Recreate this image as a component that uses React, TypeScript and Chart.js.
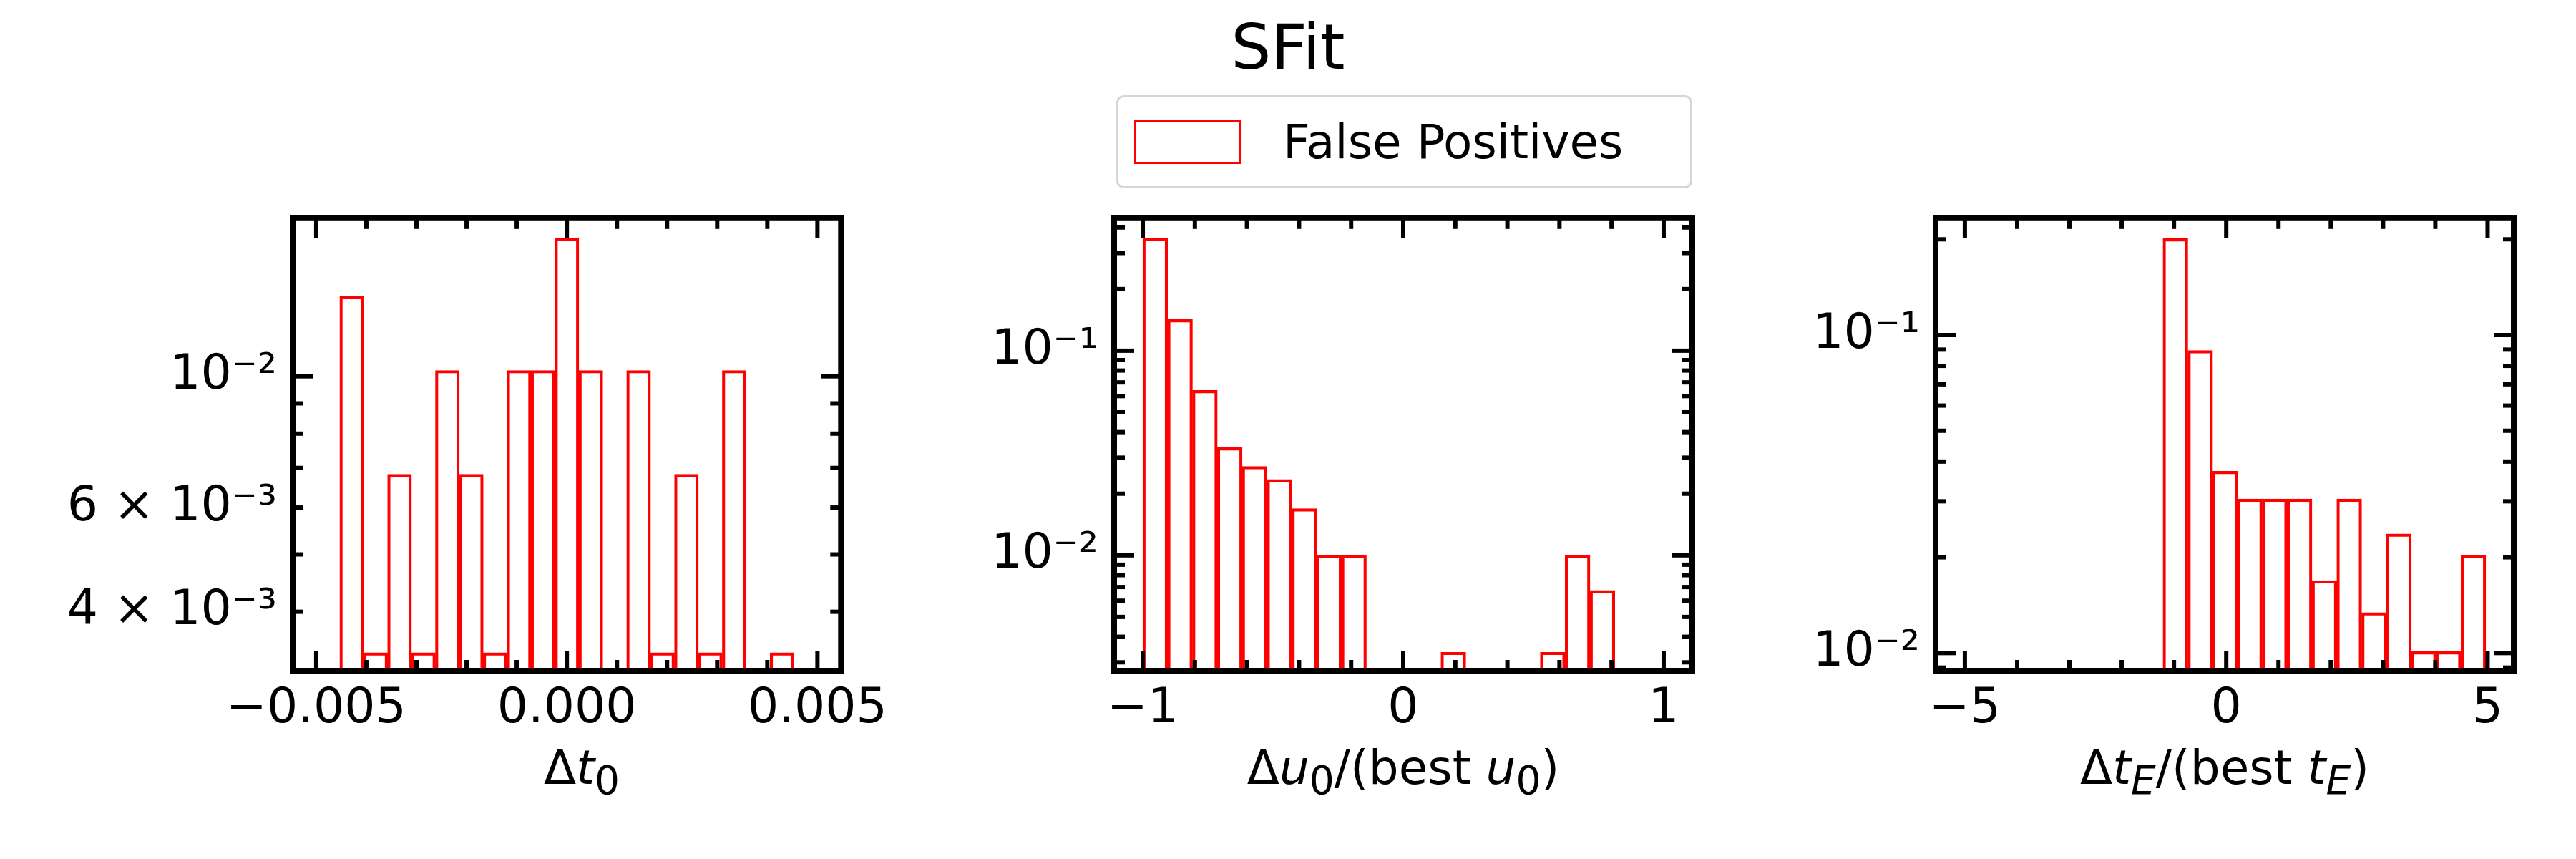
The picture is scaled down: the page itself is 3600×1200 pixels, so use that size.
import { useEffect, useRef } from 'react';
import { Chart, registerables } from 'chart.js';

Chart.register(...registerables);

// --- data (density histograms) ---
const t0BinStart = -0.00453;
const t0BinWidth = 0.000477;
const t0Density = [0.01366, 0.00341, 0.00683, 0.00341, 0.01023, 0.00683, 0.00341, 0.01023, 0.01023, 0.0171, 0.01023, null, 0.01023, 0.00341, 0.00683, 0.00341, 0.01023, null, 0.00341];
const t0Ticks = [0.004, 0.006, 0.01];
const t0TickLabels = ['4 × 10⁻³', '6 × 10⁻³', '10⁻²'];

const u0BinStart = -1.0;
const u0BinWidth = 0.0954;
const u0Density = [0.353, 0.142, 0.064, 0.0336, 0.0272, 0.0235, 0.0169, 0.01, 0.01, null, null, null, 0.00336, null, null, null, 0.00336, 0.01, 0.00674];
const u0Ticks = [0.01, 0.1];
const u0TickLabels = ['10⁻²', '10⁻¹'];

const tEBinStart = -1.21;
const tEBinWidth = 0.475;
const tEDensity = [0.201, 0.0894, 0.0373, 0.0305, 0.0305, 0.0305, 0.0169, 0.0305, 0.0134, 0.0237, 0.0101, 0.0101, 0.0203];
const tETicks = [0.01, 0.1];
const tETickLabels = ['10⁻²', '10⁻¹'];

const FONT = 'DejaVu Sans';

type Panel = {
  left: number;
  binStart: number;
  binWidth: number;
  density: (number | null)[];
  xMin: number; xMax: number;
  yMin: number; yMax: number;
  xMajor: number[]; xLabels: string[]; xMinorStep: number;
  yTicks: number[]; yLabels: string[];
};

const AX_TOP = 298;
const AX_BOTTOM = 937;
const AX_W = 808;
const CANVAS_TOP = 250;

function minorLog(min: number, max: number) {
  const out: number[] = [];
  for (let e = Math.floor(Math.log10(min)); e <= Math.ceil(Math.log10(max)); e++) {
    for (let m = 1; m < 10; m++) {
      const v = m * Math.pow(10, e);
      if (v >= min && v <= max) out.push(v);
    }
  }
  return out;
}

const frame = {
  id: 'frame',
  afterDraw(chart: any, _a: any, opts: any) {
    const { ctx, chartArea: a } = chart;
    const xs = chart.scales.x, ys = chart.scales.y;
    ctx.save();
    ctx.strokeStyle = '#000';
    ctx.lineCap = 'butt';
    const tick = (x1: number, y1: number, x2: number, y2: number, w: number) => {
      ctx.lineWidth = w; ctx.beginPath(); ctx.moveTo(x1, y1); ctx.lineTo(x2, y2); ctx.stroke();
    };
    for (let v = Math.ceil(opts.xMin / opts.xMinorStep - 1e-9) * opts.xMinorStep; v <= opts.xMax; v += opts.xMinorStep) {
      const px = xs.getPixelForValue(v);
      const major = opts.xMajor.some((m: number) => Math.abs(m - v) < opts.xMinorStep / 10);
      const L = major ? 28 : 15;
      tick(px, a.bottom, px, a.bottom - L, 6);
      tick(px, a.top, px, a.top + L, 6);
    }
    for (const v of minorLog(opts.yMin, opts.yMax)) {
      const py = ys.getPixelForValue(v);
      const major = Math.abs(Math.log10(v) - Math.round(Math.log10(v))) < 1e-6;
      const L = major ? 28 : 15;
      tick(a.left, py, a.left + L, py, 6);
      tick(a.right, py, a.right - L, py, 6);
    }
    ctx.lineWidth = 8;
    ctx.strokeRect(a.left, a.top, a.right - a.left, a.bottom - a.top);
    ctx.restore();
  },
};

function HistPanel({ p }: { p: Panel }) {
  const ref = useRef<HTMLCanvasElement>(null);
  useEffect(() => {
    if (!ref.current) return;
    const data = p.density.map((d, i) => ({ x: p.binStart + (i + 0.5) * p.binWidth, y: d }));
    const chart = new Chart(ref.current, {
      type: 'bar',
      data: {
        datasets: [{
          label: 'False Positives',
          data: data as any,
          backgroundColor: 'rgba(0,0,0,0)',
          borderColor: '#ff0000',
          borderWidth: 3.5,
          borderSkipped: 'bottom',
          barPercentage: 1,
          categoryPercentage: 1,
        }],
      },
      options: {
        animation: false,
        responsive: false,
        layout: { padding: { top: AX_TOP - CANVAS_TOP, right: 30, left: 0, bottom: 0 } },
        plugins: { legend: { display: false }, tooltip: { enabled: false }, frame: p } as any,
        scales: {
          x: {
            type: 'linear',
            offset: false,
            min: p.xMin, max: p.xMax,
            grid: { display: false, offset: false },
            border: { display: false },
            afterBuildTicks: (s: any) => { s.ticks = p.xMajor.map((v) => ({ value: v })); },
            ticks: {
              autoSkip: false, maxRotation: 0, padding: 6,
              color: '#000', font: { family: FONT, size: 68 },
              callback: (v: any) => p.xLabels[p.xMajor.findIndex((m) => Math.abs(m - v) < 1e-9)] ?? '',
            },
            afterFit: (s: any) => { s.height = 1200 - AX_BOTTOM - 10; },
          },
          y: {
            type: 'logarithmic',
            min: p.yMin, max: p.yMax,
            grid: { display: false },
            border: { display: false },
            afterBuildTicks: (s: any) => { s.ticks = p.yTicks.map((v) => ({ value: v })); },
            ticks: {
              autoSkip: false, padding: 14,
              color: '#000', font: { family: FONT, size: 68 },
              callback: (v: any) => p.yLabels[p.yTicks.findIndex((m) => Math.abs(m - v) / m < 1e-6)] ?? '',
            },
            afterFit: (s: any) => { s.width = 400; },
          },
        },
      },
      plugins: [frame],
    });
    return () => chart.destroy();
  }, [p]);
  return (
    <canvas
      ref={ref}
      width={400 + AX_W + 30}
      height={1200 - CANVAS_TOP - 10}
      style={{ position: 'absolute', left: p.left - 400, top: CANVAS_TOP }}
    />
  );
}

const panels: Panel[] = [
  {
    left: 409, binStart: t0BinStart, binWidth: t0BinWidth, density: t0Density,
    xMin: -0.00547, xMax: 0.00547, xMajor: [-0.005, 0, 0.005], xLabels: ['−0.005', '0.000', '0.005'], xMinorStep: 0.001,
    yMin: 0.00318, yMax: 0.0185, yTicks: t0Ticks, yLabels: t0TickLabels,
  },
  {
    left: 1557, binStart: u0BinStart, binWidth: u0BinWidth, density: u0Density,
    xMin: -1.11, xMax: 1.11, xMajor: [-1, 0, 1], xLabels: ['−1', '0', '1'], xMinorStep: 0.2,
    yMin: 0.00273, yMax: 0.444, yTicks: u0Ticks, yLabels: u0TickLabels,
  },
  {
    left: 2705, binStart: tEBinStart, binWidth: tEBinWidth, density: tEDensity,
    xMin: -5.56, xMax: 5.5, xMajor: [-5, 0, 5], xLabels: ['−5', '0', '5'], xMinorStep: 1,
    yMin: 0.0088, yMax: 0.233, yTicks: tETicks, yLabels: tETickLabels,
  },
];

const axisLabels = [
  <>Δ<i>t</i><sub>0</sub></>,
  <>Δ<i>u</i><sub>0</sub>/(best <i>u</i><sub>0</sub>)</>,
  <>Δ<i>t</i><sub><i>E</i></sub>/(best <i>t</i><sub><i>E</i></sub>)</>,
];

export default function App() {
  return (
    <div style={{ position: 'relative', width: 3600, height: 1200, background: '#fff', fontFamily: FONT, margin: -8 }}>
      <div style={{ position: 'absolute', left: 0, width: 3600, textAlign: 'center', top: 14, fontSize: 88, marginLeft: 0 }}>SFit</div>
      <div style={{
        position: 'absolute', left: 1560, top: 133, width: 805, height: 130, boxSizing: 'border-box',
        border: '3px solid #d6d6d6', borderRadius: 10, display: 'flex', alignItems: 'center',
      }}>
        <div style={{ width: 150, height: 62, border: '3px solid #ff0000', marginLeft: 22, boxSizing: 'border-box' }} />
        <div style={{ fontSize: 66, marginLeft: 58 }}>False Positives</div>
      </div>
      {panels.map((p, i) => <HistPanel key={i} p={p} />)}
      {panels.map((p, i) => (
        <div key={'l' + i} style={{
          position: 'absolute', left: p.left, width: AX_W, textAlign: 'center', top: 1040, fontSize: 66, lineHeight: 1,
        }}>{axisLabels[i]}</div>
      ))}
    </div>
  );
}
